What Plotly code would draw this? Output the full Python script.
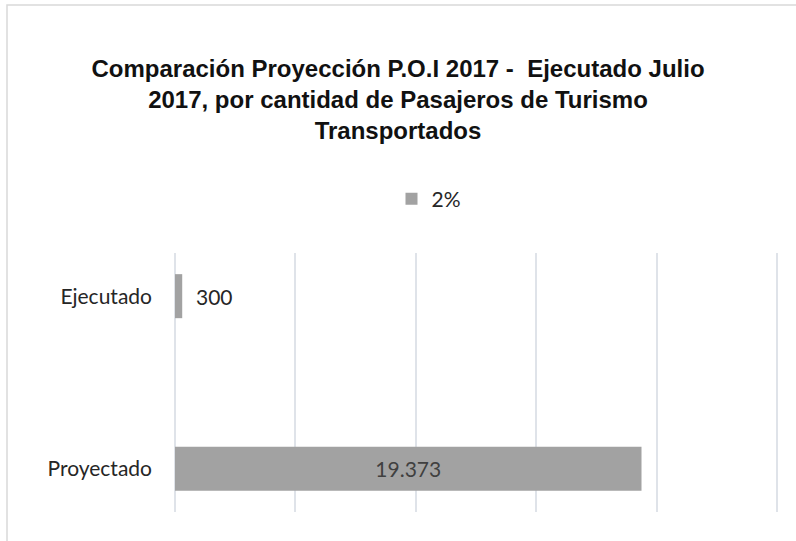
import plotly.graph_objects as go

categories = ["Proyectado", "Ejecutado"]
values = [19373, 300]
legend_name = "2%"
title_text = ("Comparación Proyección P.O.I 2017 -  Ejecutado Julio<br>"
              "2017, por cantidad de Pasajeros de Turismo<br>Transportados")

W, H = 796, 541
L, R, T, B = 175, 12, 253, 29
pw = W - L - R
ph = H - T - B
x_max = 25000 * pw / 602  # 25000 sits at pixel ~777, last grid line stays visible

bar_color = "#a2a2a2"
grid_color = "#dfe3e9"
txt_family = "Lato, Open Sans, sans-serif"
label_font = dict(family=txt_family, size=21, color="#262626")

fig = go.Figure()
fig.add_trace(go.Bar(
    y=categories, x=values, orientation="h", name=legend_name,
    marker=dict(color=bar_color, line=dict(width=0)),
    texttemplate=["%{x:,}", "  %{x:,}"],
    textposition=["inside", "outside"], insidetextanchor="middle",
    cliponaxis=False,
    insidetextfont=dict(family=txt_family, size=21, color="#404040"),
    outsidetextfont=dict(family=txt_family, size=21, color="#262626"),
    showlegend=True,
))

fig.update_layout(
    width=W, height=H,
    margin=dict(l=L, r=R, t=T, b=B, autoexpand=False),
    paper_bgcolor="white", plot_bgcolor="white",
    bargap=0.745,
    separators=",.",
    title=dict(
        text=title_text, x=0.5, xanchor="center", y=1 - 77 / H, yanchor="top",
        font=dict(family="Liberation Sans, Arial, sans-serif",
                  size=24, color="#111111", weight="bold"),
    ),
    legend=dict(
        orientation="h", x=(429 - L) / pw, xanchor="center",
        y=(H - B - 199) / ph, yanchor="middle",
        font=label_font, itemsizing="constant", bgcolor="rgba(0,0,0,0)",
    ),
    xaxis=dict(
        range=[0, x_max], tickmode="array", tickvals=[0, 5000, 10000, 15000, 20000, 25000],
        showticklabels=False,
        showgrid=True, gridcolor=grid_color, gridwidth=1.5,
        zeroline=True, zerolinecolor=grid_color, zerolinewidth=1.5,
        showline=False, fixedrange=True, layer="below traces",
    ),
    yaxis=dict(
        categoryorder="array", categoryarray=categories,
        range=[-0.25, 1.25],
        showgrid=False, zeroline=False, showline=False, ticks="",
        tickfont=label_font, ticklabelstandoff=22,
    ),
    shapes=[dict(
        type="rect", xref="paper", yref="paper",
        x0=(7 - L) / pw, x1=1.2, y0=-0.3, y1=(H - B - 5) / ph,
        line=dict(color="#d9d9d9", width=1.5), fillcolor="rgba(0,0,0,0)", layer="below",
    )],
)

fig.write_html("out.html", config={"displayModeBar": False},
               post_script="document.body.style.margin='0';document.body.style.overflow='hidden';")
